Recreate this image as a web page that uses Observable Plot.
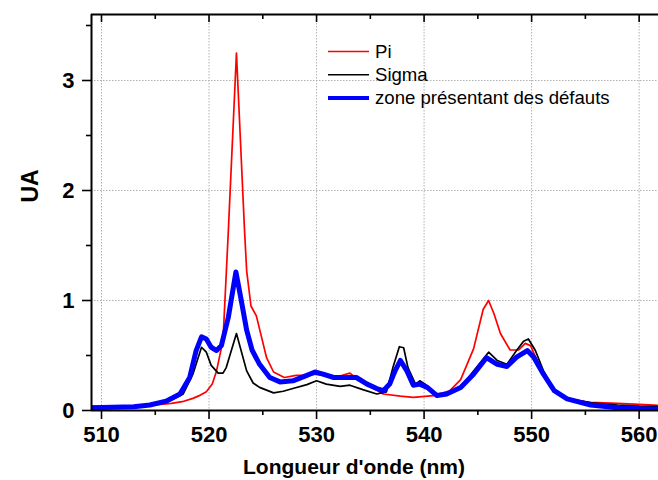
<!DOCTYPE html>
<html><head><meta charset="utf-8">
<script src="https://cdn.jsdelivr.net/npm/d3@7"></script>
<script src="https://cdn.jsdelivr.net/npm/@observablehq/plot@0.6"></script>
<style>
body{margin:0;background:#fff;}
#wrap{position:relative;width:658px;height:480px;font-family:"Liberation Sans",Arial,sans-serif;}
#legend{position:absolute;left:0;top:0;pointer-events:none;}
</style>
</head><body>
<div id="wrap"></div>
<script>
const seriesNames = ["Pi", "Sigma", "zone présentant des défauts"];
const seriesColors = ["#ff0000", "#000000", "#0000ff"];
const seriesWidths = [1.7, 1.7, 5];
const xTitle = "Longueur d'onde (nm)";
const yTitle = "UA";

const piX = [509, 511, 513, 515, 516.5, 517.5, 518.5, 519.2, 519.75, 520.3, 520.7, 521.3, 521.8, 522.55, 523.3, 523.5, 523.9, 524.4, 524.9, 525.35, 526, 527, 528.1, 529, 530, 531.5, 532.4, 533.1, 534, 535.3, 536.2, 537.8, 539, 540.9, 542.4, 543.4, 544.6, 545.5, 546, 546.5, 547.1, 548, 548.8, 549.4, 549.9, 550.8, 551.75, 552.7, 553.6, 555.5, 558, 560, 562];
const piY = [0.04, 0.035, 0.035, 0.05, 0.065, 0.08, 0.11, 0.14, 0.17, 0.24, 0.36, 0.64, 1.64, 3.25, 1.64, 1.27, 0.95, 0.86, 0.66, 0.48, 0.35, 0.30, 0.32, 0.32, 0.33, 0.30, 0.32, 0.34, 0.27, 0.20, 0.15, 0.13, 0.12, 0.135, 0.18, 0.28, 0.56, 0.92, 1.0, 0.88, 0.70, 0.55, 0.55, 0.61, 0.59, 0.39, 0.21, 0.14, 0.10, 0.075, 0.065, 0.055, 0.045];

const sigmaX = [509, 511, 513, 514.5, 516.3, 517.6, 518.5, 519.3, 519.75, 520.2, 520.85, 521.3, 521.6, 522.55, 523.5, 524.1, 524.7, 526, 526.9, 527.8, 529.1, 530, 530.9, 532.2, 533.1, 534.3, 535.6, 536.5, 537.1, 537.7, 538.1, 538.5, 539.2, 539.6, 540.1, 540.9, 541.5, 542.2, 543.4, 544.6, 546, 546.8, 547.7, 548.6, 549.25, 549.7, 550.35, 551.1, 552.1, 553.3, 555.5, 558, 560, 562];
const sigmaY = [0.03, 0.03, 0.035, 0.045, 0.085, 0.15, 0.33, 0.575, 0.53, 0.41, 0.34, 0.34, 0.39, 0.70, 0.36, 0.25, 0.21, 0.16, 0.175, 0.20, 0.235, 0.27, 0.24, 0.22, 0.23, 0.19, 0.15, 0.17, 0.39, 0.58, 0.57, 0.39, 0.24, 0.27, 0.24, 0.15, 0.135, 0.15, 0.21, 0.36, 0.53, 0.455, 0.42, 0.545, 0.63, 0.65, 0.545, 0.36, 0.19, 0.11, 0.07, 0.05, 0.04, 0.035];

const zoneX = [509, 511, 513, 514.5, 516, 517.3, 518.2, 518.8, 519.3, 519.75, 520.2, 520.7, 521.15, 521.8, 522.5, 523, 523.5, 524, 524.7, 525.65, 526.6, 527.8, 529.1, 529.85, 530.6, 531.6, 532.8, 533.7, 534.7, 535.6, 536.2, 536.8, 537.3, 537.8, 538.4, 539, 539.6, 540.3, 541.2, 542.1, 543.4, 544.6, 545.8, 546.8, 547.7, 548.6, 549.6, 550.2, 551.1, 552.1, 553.3, 555.5, 558, 560, 562];
const zoneY = [0.025, 0.03, 0.035, 0.05, 0.085, 0.15, 0.30, 0.545, 0.67, 0.65, 0.575, 0.545, 0.59, 0.85, 1.26, 1.0, 0.73, 0.55, 0.42, 0.30, 0.26, 0.27, 0.32, 0.35, 0.33, 0.30, 0.30, 0.30, 0.24, 0.20, 0.18, 0.24, 0.36, 0.455, 0.36, 0.23, 0.24, 0.21, 0.136, 0.15, 0.21, 0.33, 0.48, 0.42, 0.40, 0.485, 0.545, 0.485, 0.33, 0.18, 0.105, 0.05, 0.025, 0.015, 0.012];

const xTicks = [510, 520, 530, 540, 550, 560];
const xMinor = [515, 525, 535, 545, 555];
const yTicks = [0, 1, 2, 3];
const yMinor = [0.5, 1.5, 2.5, 3.5];
const yGrid = [1, 2, 3];
const xDomain = [509.07, 561.8];
const yDomain = [0, 3.6];

const toRows = (xs, ys, name) => xs.map((x, i) => ({x, y: ys[i], name}));
const rowsList = [toRows(piX, piY, seriesNames[0]), toRows(sigmaX, sigmaY, seriesNames[1]), toRows(zoneX, zoneY, seriesNames[2])];

const font = {fontSize: 22, fontWeight: "bold"};

const plot = Plot.plot({
  width: 658,
  height: 480,
  marginLeft: 91,
  marginRight: 0,
  marginTop: 14,
  marginBottom: 70,
  style: {fontFamily: "'Liberation Sans', Arial, sans-serif", color: "#000", background: "#fff"},
  x: {domain: xDomain},
  y: {domain: yDomain},
  marks: [
    Plot.gridX(xTicks, {stroke: "#b0b0b0", strokeOpacity: 1, strokeDasharray: "1.5,1.5"}),
    Plot.gridY(yGrid, {stroke: "#b0b0b0", strokeOpacity: 1, strokeDasharray: "1.5,1.5"}),
    ...rowsList.map((rows, i) => Plot.line(rows, {x: "x", y: "y", stroke: seriesColors[i], strokeWidth: seriesWidths[i], clip: true, strokeLinejoin: "round"})),
    Plot.axisX(xTicks, {anchor: "bottom", tickSize: 9, tickPadding: 7, ...font, strokeWidth: 1.6, tickFormat: d => String(d), label: null}),
    Plot.axisX(xMinor, {anchor: "bottom", tickSize: 5, strokeWidth: 1.6, text: null, label: null}),
    Plot.axisX(xTicks, {anchor: "top", tickSize: -7, strokeWidth: 1.6, text: null, label: null}),
    Plot.axisX(xMinor, {anchor: "top", tickSize: -4, strokeWidth: 1.6, text: null, label: null}),
    Plot.axisY(yTicks, {anchor: "left", tickSize: 9, tickPadding: 8, ...font, strokeWidth: 1.6, tickFormat: d => String(d), label: null}),
    Plot.axisY(yMinor, {anchor: "left", tickSize: 5, strokeWidth: 1.6, text: null, label: null}),
    Plot.text([xTitle], {frameAnchor: "bottom", text: d => d, dx: -21, dy: 57, lineAnchor: "middle", fontSize: 21, fontWeight: "bold"}),
    Plot.text([yTitle], {frameAnchor: "left", text: d => d, dx: -61, dy: -10, rotate: -90, lineAnchor: "middle", fontSize: 23, fontWeight: "bold"}),
    Plot.ruleX([xDomain[0]], {strokeWidth: 2}),
    Plot.ruleY([yDomain[0]], {strokeWidth: 2}),
    Plot.ruleY([yDomain[1]], {strokeWidth: 2})
  ]
});

const wrap = document.getElementById("wrap");
wrap.appendChild(plot);

// legend overlay inside plot area
const ns = "http://www.w3.org/2000/svg";
const leg = document.createElementNS(ns, "svg");
leg.setAttribute("id", "legend");
leg.setAttribute("width", 658);
leg.setAttribute("height", 480);
const lx = 328, ly = 51.5, dy = 23.2;
seriesNames.forEach((name, i) => {
  const y = ly + i * dy;
  const l = document.createElementNS(ns, "line");
  l.setAttribute("x1", lx); l.setAttribute("x2", lx + 41);
  l.setAttribute("y1", y); l.setAttribute("y2", y);
  l.setAttribute("stroke", seriesColors[i]);
  l.setAttribute("stroke-width", i === 2 ? 4 : 1.6);
  leg.appendChild(l);
  const t = document.createElementNS(ns, "text");
  t.setAttribute("x", lx + 47); t.setAttribute("y", y);
  t.setAttribute("dy", "0.35em");
  t.setAttribute("font-size", 18.6);
  t.setAttribute("font-family", "'Liberation Sans', Arial, sans-serif");
  t.textContent = name;
  leg.appendChild(t);
});
wrap.appendChild(leg);
</script>
</body></html>
